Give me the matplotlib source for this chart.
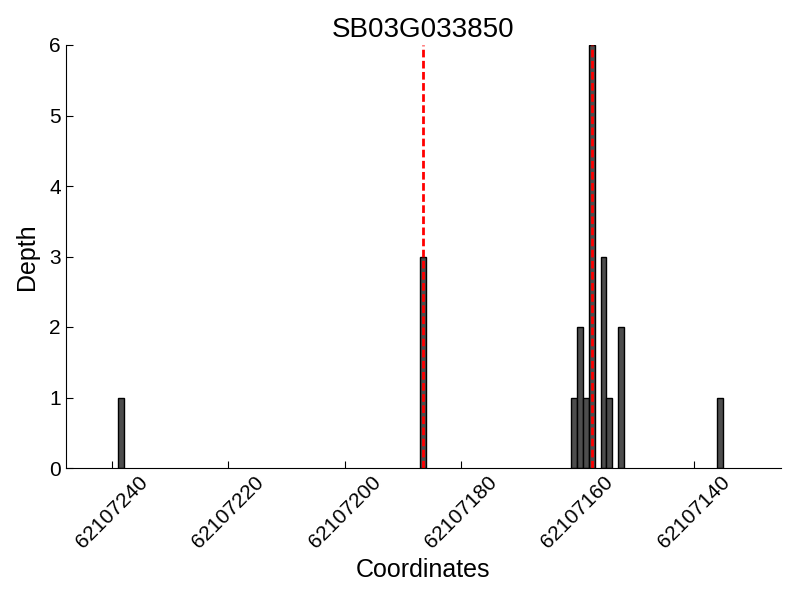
import matplotlib
matplotlib.use('Agg')
import matplotlib.pyplot as plt

plt.rcParams['font.family'] = ['Liberation Sans', 'DejaVu Sans']
plt.rcParams['lines.scale_dashes'] = False

# read depth per coordinate
coords = [62107238, 62107186, 62107160, 62107159, 62107158, 62107157,
          62107155, 62107154, 62107152, 62107135]
depth = [1, 3, 1, 2, 1, 6, 3, 1, 2, 1]
marks = [62107186.5, 62107157.5]
xticks = [62107240, 62107220, 62107200, 62107180, 62107160, 62107140]

fig = plt.figure(figsize=(8, 6), dpi=100)
ax = fig.add_axes([0.082, 0.22, 0.894, 0.705])

ax.bar(coords, depth, width=1, align='edge', color='#4d4d4d',
       edgecolor='black', linewidth=1)
for m in marks:
    ax.axvline(m, color='red', linestyle='--', dashes=(5.5, 2.5), linewidth=2)

ax.set_xlim(62107248, 62107125)
ax.set_ylim(0, 6)
ax.set_xticks(xticks)
ax.set_xticklabels([str(t) for t in xticks], rotation=45, fontsize=15)
ax.tick_params(axis='y', labelsize=15)
ax.tick_params(direction='in', top=False, right=False, length=5)
ax.spines['top'].set_visible(False)
ax.spines['right'].set_visible(False)

ax.set_xlabel('Coordinates', fontsize=18)
ax.set_ylabel('Depth', fontsize=18, labelpad=7)
ax.set_title('SB03G033850', fontsize=20)

plt.savefig('out.png')
